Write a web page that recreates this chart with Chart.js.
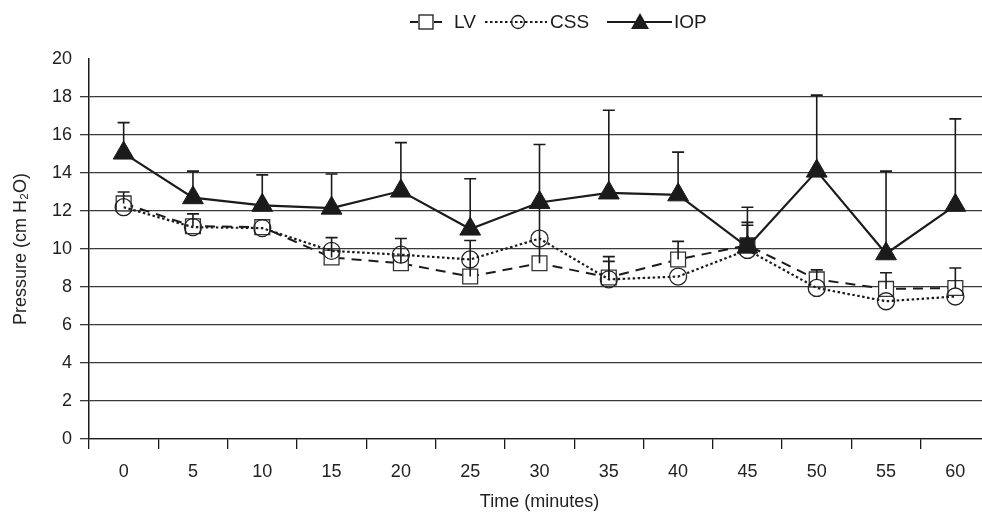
<!DOCTYPE html>
<html lang="en">
<head>
<meta charset="UTF-8">
<title>Pressure over time</title>
<script src="https://cdn.jsdelivr.net/npm/chart.js"></script>
<style>
  html, body { margin: 0; padding: 0; background: #fff; overflow: hidden; }
  #pressureChart { display: block; width: 1003px; height: 515px; }
</style>
</head>
<body>
<!-- canvas wider than the window: the original figure is cropped on the right -->
<canvas id="pressureChart" width="1003" height="515"></canvas>
<script>
// values (cm H2O)
const times = ['0', '5', '10', '15', '20', '25', '30', '35', '40', '45', '50', '55', '60'];
const lvValues  = [12.4, 11.2, 11.15, 9.55, 9.25, 8.55, 9.25, 8.5, 9.45, 10.2, 8.4, 7.9, 7.95];
const cssValues = [12.2, 11.15, 11.1, 9.9, 9.7, 9.45, 10.55, 8.4, 8.55, 9.95, 7.95, 7.25, 7.5];
const iopValues = [15.05, 12.7, 12.3, 12.15, 13.05, 11.05, 12.45, 12.95, 12.85, 10.1, 14.1, 9.75, 12.3];
// upper ends of the error bars (only + side drawn in the original)
const lvErrTop  = [13.0, 11.85, null, 10.6, 10.55, 10.45, 12.3, 9.6, 10.4, 11.4, 8.9, 8.75, 9.0];
const cssErrTop = [null, null, null, null, null, null, null, 9.35, null, 11.25, null, null, null];
const iopErrTop = [16.65, 14.1, 13.9, 13.95, 15.6, 13.7, 15.5, 17.3, 15.1, 12.2, 18.1, 14.1, 16.85];
const yTicks = [0, 2, 4, 6, 8, 10, 12, 14, 16, 18, 20];

const ink = '#1b1b1b';
const fam = '"Liberation Sans", Arial, Helvetica, sans-serif';

const errorBars = {
  id: 'errorBars',
  afterDatasetsDraw(chart) {
    const ctx = chart.ctx;
    const xs = chart.scales.x, ys = chart.scales.y;
    ctx.save();
    ctx.strokeStyle = ink;
    ctx.lineWidth = 1.6;
    ctx.setLineDash([]);
    chart.data.datasets.forEach(ds => {
      if (!ds.errTop) return;
      ds.errTop.forEach((top, i) => {
        if (top == null) return;
        const px = xs.getPixelForValue(i);
        const y0 = ys.getPixelForValue(ds.data[i]);
        const y1 = ys.getPixelForValue(top);
        ctx.beginPath();
        ctx.moveTo(px, y0); ctx.lineTo(px, y1);
        ctx.moveTo(px - 6, y1); ctx.lineTo(px + 6, y1);
        ctx.stroke();
      });
    });
    ctx.restore();
  }
};

// legend drawn by hand: line sample + marker, like the Excel legend
const sampleLegend = {
  id: 'sampleLegend',
  afterDraw(chart) {
    const ctx = chart.ctx;
    const cy = 22;
    ctx.save();
    ctx.strokeStyle = ink;
    ctx.fillStyle = ink;
    ctx.font = '19px ' + fam;
    ctx.textBaseline = 'middle';

    // LV  -[]-
    let x = 410;
    ctx.lineWidth = 2;
    ctx.setLineDash([]);
    ctx.beginPath(); ctx.moveTo(x, cy); ctx.lineTo(x + 8, cy); ctx.moveTo(x + 24, cy); ctx.lineTo(x + 32, cy); ctx.stroke();
    ctx.lineWidth = 1.3;
    ctx.fillStyle = '#fff';
    ctx.fillRect(x + 9, cy - 7, 14, 14);
    ctx.strokeRect(x + 9, cy - 7, 14, 14);
    ctx.fillStyle = ink;
    ctx.fillText('LV', x + 44, cy + 1);

    // CSS ....o....
    x = 485;
    ctx.lineWidth = 2;
    ctx.setLineDash([2.5, 2.5]);
    ctx.beginPath(); ctx.moveTo(x, cy); ctx.lineTo(x + 62, cy); ctx.stroke();
    ctx.setLineDash([]);
    ctx.lineWidth = 1.3;
    ctx.beginPath(); ctx.arc(x + 33, cy, 6.5, 0, Math.PI * 2); ctx.stroke();
    ctx.fillText('CSS', x + 65, cy + 1);

    // IOP ---^---
    x = 607;
    ctx.lineWidth = 2;
    ctx.beginPath(); ctx.moveTo(x, cy); ctx.lineTo(x + 65, cy); ctx.stroke();
    ctx.beginPath();
    ctx.moveTo(x + 33, cy - 9); ctx.lineTo(x + 42, cy + 7); ctx.lineTo(x + 24, cy + 7); ctx.closePath();
    ctx.fill();
    ctx.fillText('IOP', x + 67, cy + 1);
    ctx.restore();
  }
};

const lvFill = lvValues.map((v, i) => i === 9 ? ink : '#fff');

new Chart(document.getElementById('pressureChart'), {
  type: 'line',
  data: {
    labels: times,
    datasets: [
      {
        label: 'LV', data: lvValues, errTop: lvErrTop, order: 2,
        borderColor: ink, borderWidth: 2, borderDash: [10, 7],
        pointStyle: 'rect', pointRadius: 10.5, pointBorderWidth: 1.3,
        pointBorderColor: '#333', pointBackgroundColor: lvFill
      },
      {
        label: 'CSS', data: cssValues, errTop: cssErrTop, order: 1,
        borderColor: ink, borderWidth: 2.2, borderDash: [2.5, 2.5],
        pointStyle: 'circle', pointRadius: 8.5, pointBorderWidth: 1.3,
        pointBorderColor: '#222', pointBackgroundColor: 'rgba(255,255,255,0)'
      },
      {
        label: 'IOP', data: iopValues, errTop: iopErrTop, order: 0,
        borderColor: ink, borderWidth: 2.2,
        pointStyle: 'triangle', pointRadius: 12, pointBorderWidth: 1,
        pointBorderColor: ink, pointBackgroundColor: ink
      }
    ]
  },
  options: {
    responsive: false,
    animation: false,
    layout: { padding: { top: 59, right: 3, bottom: 0, left: 0 } },
    plugins: {
      legend: { display: false },
      tooltip: { enabled: false }
    },
    scales: {
      x: {
        offset: true,
        grid: { offset: true, drawOnChartArea: false, color: ink, lineWidth: 1.3, tickLength: 10 },
        border: { color: ink, width: 1.3 },
        ticks: { color: '#222', font: { size: 18, family: fam }, padding: 12, maxRotation: 0, autoSkip: false },
        title: { display: true, text: 'Time (minutes)', color: '#222', font: { size: 18, family: fam }, padding: { top: 0, bottom: 2 } },
        afterFit(scale) { scale.height = 76; }
      },
      y: {
        min: 0, max: 20,
        afterBuildTicks(scale) { scale.ticks = yTicks.map(v => ({ value: v })); },
        grid: {
          color: c => (c.tick && c.tick.value === 20) ? 'rgba(0,0,0,0)' : '#3a3a3a',
          lineWidth: 1.3, tickLength: 9
        },
        border: { color: ink, width: 1.5 },
        ticks: { color: '#222', font: { size: 18, family: fam }, padding: 8 },
        title: { display: true, text: 'Pressure (cm H₂O)', color: '#222', font: { size: 18, family: fam }, padding: { top: 10, bottom: 0 } },
        afterFit(scale) { scale.width = 89; }
      }
    }
  },
  plugins: [errorBars, sampleLegend]
});
</script>
</body>
</html>
